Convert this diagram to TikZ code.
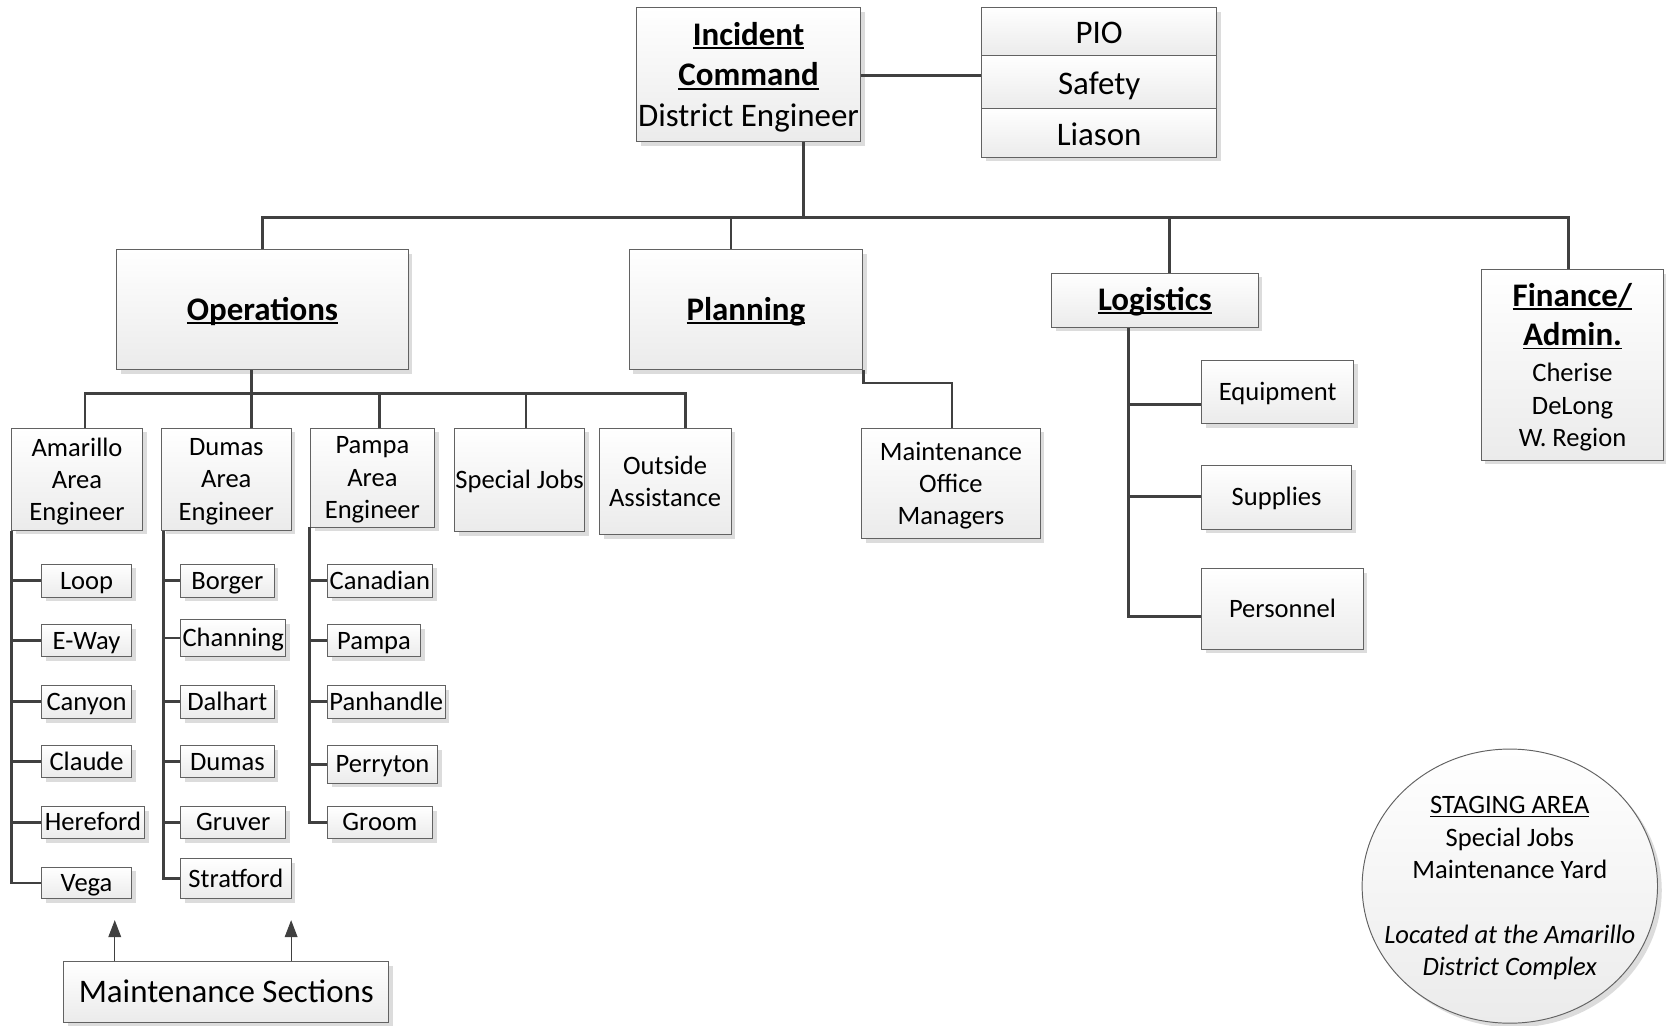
\documentclass[tikz,border=0pt]{standalone}
\usepackage{fontspec}
\setmainfont{Carlito}
\usetikzlibrary{shadows,shapes.geometric,arrows.meta}
\definecolor{connc}{HTML}{404040}
\definecolor{edge}{HTML}{626262}
\definecolor{shade}{HTML}{EBEBEB}
\definecolor{shadowc}{HTML}{DCDCDC}
% bold underlined heading word, rule at a fixed depth below the baseline
\newsavebox\ulbox
\newcommand\ulbf[1]{\sbox\ulbox{\textbf{#1}}\usebox\ulbox\llap{\rule[-3.5pt]{\wd\ulbox}{1.8pt}}}
\newcommand\ulrm[1]{\sbox\ulbox{#1}\usebox\ulbox\llap{\rule[-3pt]{\wd\ulbox}{1pt}}}
% \bx[style]{name}{x1}{y1}{x2}{y2}{text}
\newcommand\bx[7][]{\node[box,#1,minimum width={#5-#3},minimum height={#6-#4}] (#2) at ({(#3+#5)/2},{(#4+#6)/2}) {#7};}
\begin{document}
\begin{tikzpicture}[x=1pt,y=-1pt,
  box/.style={draw=edge,line width=0.9pt,top color=white,bottom color=shade,inner sep=0pt,align=center,
    drop shadow={shadow xshift=4pt,shadow yshift=-4pt,fill=shadowc,opacity=1}},
  conn/.style={draw=connc,line width=2.6pt},
  arr/.style={draw=edge,line width=1pt,-{Triangle[length=16pt,width=12pt]},color=connc},
  sm/.style={font=\fontsize{25}{30.5}\selectfont},
  md/.style={font=\fontsize{31}{38}\selectfont},
  hd/.style={font=\fontsize{31}{36}\selectfont},
  % single lines: centre on the capital height
  sm1/.style={sm,text height=20.8pt,text depth=5pt},
  md1/.style={md,text height=29.6pt,text depth=6pt},
  hd1/.style={hd,text height=25.6pt,text depth=6pt},
  % several lines: ignore the descender of the last line
  multi/.style={text depth=0pt},
  stage/.style={ellipse,draw=edge,line width=0.9pt,top color=white,bottom color=shade,inner sep=0pt,
    drop shadow={shadow xshift=4pt,shadow yshift=-4pt,fill=shadowc,opacity=1}},
]
\useasboundingbox (0,0) rectangle (1568,965);

% command level
\bx[md,multi]{ic}{599}{7}{810}{133}{\ulbf{Incident}\\\ulbf{Command}\\District Engineer}
\bx[md1]{pio}{924}{7}{1145}{52}{PIO}
\bx[md1]{safety}{924}{52}{1145}{102}{Safety}
\bx[md1]{liason}{924}{102}{1145}{148}{Liason}

% sections
\bx[hd1]{ops}{110}{235}{384}{348}{\ulbf{Operations}}
\bx[hd1]{plan}{592}{235}{812}{348}{\ulbf{Planning}}
\bx[hd1]{logi}{990}{257}{1184}{308}{\ulbf{Logistics}}
\bx[sm,multi]{fin}{1394}{254}{1566}{433}{{\fontsize{31}{30.5}\selectfont\ulbf{Finance/}}\\[6.5pt]{\fontsize{31}{30.5}\selectfont\ulbf{Admin.}}\\[3.5pt]Cherise\\DeLong\\W. Region}

% operations branches
\bx[sm,multi]{amar}{11}{403}{134}{499}{Amarillo\\Area\\Engineer}
\bx[sm,multi]{dumas}{152}{403}{274}{499}{Dumas\\Area\\Engineer}
\bx[sm,multi]{pampa}{292}{403}{409}{496}{Pampa\\Area\\Engineer}
\bx[sm1]{spec}{428}{403}{550}{500}{Special Jobs}
\bx[sm,multi]{outs}{564}{403}{688}{503}{Outside\\Assistance}

% planning and logistics units
\bx[sm,multi]{mom}{811}{403}{979}{507}{Maintenance\\Office\\Managers}
\bx[sm1]{equip}{1131}{339}{1274}{399}{Equipment}
\bx[sm1]{supp}{1131}{438}{1272}{498}{Supplies}
\bx[sm1]{pers}{1131}{535}{1283}{611}{Personnel}

% maintenance sections: Amarillo
\bx[sm1]{loop}{39}{531}{124}{562}{Loop}
\bx[sm1]{eway}{39}{588}{124}{618}{E-Way}
\bx[sm1]{canyon}{39}{645}{124}{676}{Canyon}
\bx[sm1]{claude}{39}{702}{124}{732}{Claude}
\bx[sm1]{hereford}{39}{759}{136}{789}{Hereford}
\bx[sm1]{vega}{39}{816}{124}{846}{Vega}
% Dumas
\bx[sm1]{borger}{170}{531}{258}{562}{Borger}
\bx[sm1]{channing}{170}{583}{269}{618}{Channing}
\bx[sm1]{dalhart}{170}{645}{258}{676}{Dalhart}
\bx[sm1]{dumassec}{170}{702}{258}{732}{Dumas}
\bx[sm1]{gruver}{170}{759}{269}{789}{Gruver}
\bx[sm1]{strat}{170}{808}{274}{846}{Stratford}
% Pampa
\bx[sm1]{canadian}{308}{531}{407}{562}{Canadian}
\bx[sm1]{pampasec}{308}{588}{396}{618}{Pampa}
\bx[sm1]{panh}{308}{645}{419}{676}{Panhandle}
\bx[sm1]{perry}{308}{702}{412}{737}{Perryton}
\bx[sm1]{groom}{308}{759}{407}{789}{Groom}

\bx[hd1]{ms}{60}{905}{366}{962}{Maintenance Sections}

% staging area
\node[stage,minimum width=278,minimum height=258] (stg) at (1421,834) {};
\node[sm,multi,align=center,inner sep=0pt] (stgtext) at (stg.center)
  {\ulrm{STAGING AREA}\\Special Jobs\\Maintenance Yard\\[30.5pt]\textit{Located at the Amarillo}\\\textit{District Complex}};

% ---- connectors ----
\draw[conn] ([yshift=-1pt]ic.east) -- ([yshift=-1pt]ic.east -| safety.west);
\draw[conn] ([xshift=52pt]ic.south) -- ++(0,71) coordinate (hub);
\draw[conn] (ops.north) |- ([xshift=-4pt]fin.north |- hub) -- ([xshift=-4pt]fin.north);
\draw[conn] ([xshift=-14pt]plan.north) -- ([xshift=-14pt]plan.north |- hub);
\draw[conn] ([xshift=14pt]logi.north) -- ([xshift=14pt]logi.north |- hub);

\draw[conn] ([xshift=-10pt]ops.south) -- ++(0,22) coordinate (obus);
\draw[conn] ([xshift=7.5pt]amar.north) |- ([xshift=19pt]outs.north |- obus) -- ([xshift=19pt]outs.north);
\draw[conn] ([xshift=24pt]dumas.north) -- ([xshift=24pt]dumas.north |- obus);
\draw[conn] ([xshift=6.5pt]pampa.north) -- ([xshift=6.5pt]pampa.north |- obus);
\draw[conn] ([xshift=6pt]spec.north) -- ([xshift=6pt]spec.north |- obus);

\draw[conn] (plan.south east) -- ++(0,12) -| ([xshift=1pt]mom.north);

\coordinate (ltr) at ([xshift=-25pt]logi.south);
\coordinate (eqin) at ([yshift=-12pt]equip.west);
\coordinate (suin) at ([yshift=1pt]supp.west);
\coordinate (pein) at ([yshift=-7pt]pers.west);
\draw[conn] (ltr) |- (pein);
\draw[conn] (ltr |- eqin) -- (eqin);
\draw[conn] (ltr |- suin) -- (suin);

\draw[conn] (amar.south west) |- (vega.west);
\foreach \s in {loop,eway,canyon,claude,hereford}
  \draw[conn] (amar.south west |- \s.west) -- (\s.west);

\coordinate (dtr) at ([xshift=2pt]dumas.south west);
\draw[conn] (dtr) |- (strat.west);
\foreach \s in {borger,channing,dalhart,dumassec,gruver}
  \draw[conn] (dtr |- \s.west) -- (\s.west);

\draw[conn] (pampa.south west) |- (groom.west);
\foreach \s in {canadian,pampasec,panh,perry}
  \draw[conn] (pampa.south west |- \s.west) -- (\s.west);

\coordinate (tipA) at (108,866);
\coordinate (tipB) at (274,866);
\draw[arr] ([xshift=-105pt]ms.north) -- (tipA);
\draw[arr] ([xshift=61pt]ms.north) -- (tipB);
\end{tikzpicture}
\end{document}
